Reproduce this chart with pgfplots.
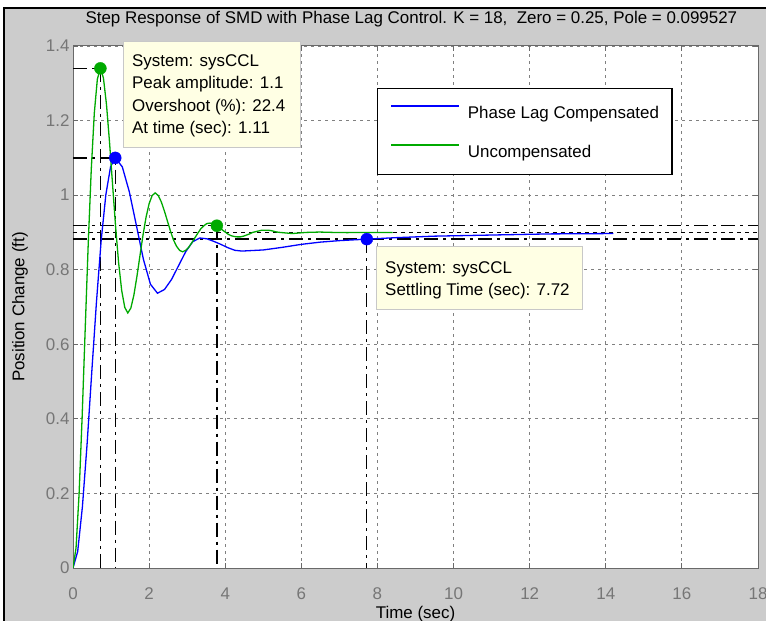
\documentclass[border=0pt]{standalone}
\usepackage{fontspec}
\setmainfont{Liberation Sans}
\usepackage{pgfplots}
\pgfplotsset{compat=1.18}

\definecolor{figgray}{RGB}{204,204,204}
\definecolor{mblue}{RGB}{0,0,255}
\definecolor{mgreen}{RGB}{0,170,0}
\definecolor{tickgray}{RGB}{118,118,118}
\definecolor{axgray}{RGB}{105,105,105}
\definecolor{tipfill}{RGB}{255,255,228}
\definecolor{tipedge}{RGB}{200,200,200}
\newcommand{\fs}{\fontsize{17}{20}\selectfont}

\begin{document}
\begin{tikzpicture}
\useasboundingbox (0,0) rectangle (766bp,621bp);
\fill[white] (0,0) rectangle (766bp,621bp);
\fill[figgray] (4bp,0) rectangle (766bp,613bp);
\draw[line width=2bp] (4bp,0) -- (4bp,613bp) -- (766bp,613bp);

\begin{axis}[
  at={(73bp,53bp)}, anchor=south west,
  width=685bp, height=522bp, scale only axis,
  xmin=0, xmax=18, ymin=0, ymax=1.4,
  xtick={0,2,...,18},
  ytick={0,0.2,0.4,0.6,0.8,1,1.2,1.4},
  yticklabels={0,0.2,0.4,0.6,0.8,1,1.2,1.4},
  axis background/.style={fill=white},
  axis line style={draw=axgray, line width=1bp},
  tick style={draw=axgray, line width=0.8bp},
  tick align=inside, major tick length=5bp,
  grid=major,
  major grid style={draw=gray, line width=0.9bp, dash pattern=on 3bp off 4bp},
  /pgf/number format/assume math mode=true,
  tick label style={font=\fs, text=tickgray},
  xticklabel style={yshift=-16bp},
  title={Step Response of SMD with Phase Lag Control. K = 18,\ \ Zero = 0.25, Pole = 0.099527},
  title style={font=\fs, at={([yshift=17bp]axis description cs:0.494,1)}, anchor=base},
  xlabel={Time (sec)},
  xlabel style={font=\fs, at={([yshift=-50bp]axis description cs:0.5,0)}, anchor=base},
  ylabel={Position Change (ft)},
  ylabel style={font=\fs, at={([xshift=-48.5bp]axis description cs:0,0.5)}, anchor=base},
  legend style={at={(axis description cs:0.4438,0.9195)}, anchor=north west,
    draw=black, line width=1.2bp, fill=white, font=\fs,
    inner xsep=13bp, inner ysep=14.5bp, row sep=21.5bp,
    nodes={inner sep=0pt, text height=15.5bp, text depth=2bp}},
  legend cell align=left,
  legend image code/.code={\draw[#1, line width=1.3bp] (0bp,6bp) -- (68bp,6bp); \path (76bp,0bp);},
]

% characteristic lines (peak and settling)
\addplot[forget plot, black, line width=1.4bp, dash pattern=on 14bp off 5bp on 3bp off 5bp]
  coordinates {(0,1.34) (0.72,1.34) (0.72,0)};
\addplot[forget plot, black, line width=1.4bp, dash pattern=on 14bp off 5bp on 3bp off 5bp]
  coordinates {(0,1.1) (1.11,1.1) (1.11,0)};
\addplot[forget plot, black, line width=1.4bp, dash pattern=on 14bp off 5bp on 3bp off 5bp]
  coordinates {(3.78,0.918) (3.78,0)};
\addplot[forget plot, black, line width=1.4bp, dash pattern=on 14bp off 5bp on 3bp off 5bp]
  coordinates {(7.72,0.882) (7.72,0)};
\addplot[forget plot, black, line width=1.4bp, dash pattern=on 14bp off 5bp on 3bp off 5bp]
  coordinates {(0,0.918) (18,0.918)};
\addplot[forget plot, black, line width=1.4bp, dash pattern=on 14bp off 5bp on 3bp off 5bp]
  coordinates {(0,0.882) (18,0.882)};
\addplot[forget plot, black, line width=1bp, dash pattern=on 4bp off 4bp]
  coordinates {(0,0.9) (18,0.9)};

% phase lag compensated
\addplot[mblue, line width=1.3bp] coordinates {
(0,0) (0.123,0.044) (0.247,0.164) (0.37,0.332) (0.493,0.525) (0.617,0.714)
(0.74,0.878) (0.863,1.001) (0.987,1.076) (1.11,1.1) (1.295,1.076) (1.48,1.009)
(1.665,0.919) (1.85,0.828) (2.035,0.761) (2.22,0.737) (2.405,0.747) (2.59,0.774)
(2.775,0.811) (2.96,0.848) (3.145,0.875) (3.33,0.885) (3.515,0.883) (3.70,0.876)
(3.885,0.868) (4.07,0.859) (4.255,0.852) (4.44,0.850) (5.0,0.853) (5.5,0.860)
(6.0,0.868) (6.5,0.874) (7.0,0.878) (7.72,0.882) (8.5,0.886) (9.5,0.890)
(11,0.893) (12.5,0.896) (14.2,0.897)
};
\addlegendentry{Phase Lag Compensated}

% uncompensated
\addplot[mgreen, line width=1.3bp] coordinates {
(0,0) (0.08,0.054) (0.16,0.199) (0.24,0.405) (0.32,0.639) (0.40,0.869)
(0.48,1.069) (0.56,1.220) (0.64,1.311) (0.72,1.341) (0.80,1.314) (0.88,1.243)
(0.96,1.142) (1.04,1.028) (1.12,0.915) (1.20,0.817) (1.28,0.744) (1.36,0.699)
(1.44,0.684) (1.52,0.697) (1.60,0.732) (1.68,0.782) (1.76,0.838) (1.84,0.893)
(1.92,0.941) (2.00,0.977) (2.08,0.999) (2.16,1.006) (2.24,0.999) (2.32,0.982)
(2.40,0.958) (2.48,0.931) (2.56,0.904) (2.64,0.880) (2.72,0.863) (2.80,0.852)
(2.88,0.848) (2.96,0.852) (3.04,0.860) (3.12,0.872) (3.20,0.885) (3.28,0.898)
(3.36,0.910) (3.44,0.918) (3.52,0.924) (3.60,0.925) (3.68,0.924) (3.76,0.920)
(3.84,0.914) (3.92,0.907) (4.00,0.901) (4.08,0.895) (4.16,0.891) (4.24,0.889)
(4.32,0.888) (4.40,0.888) (4.48,0.890) (4.56,0.893) (4.64,0.896) (4.72,0.900)
(4.80,0.902) (4.88,0.904) (4.96,0.906) (5.04,0.906) (5.12,0.906) (5.20,0.905)
(5.28,0.903) (5.36,0.901) (5.44,0.900) (5.76,0.897) (6.12,0.900) (6.48,0.901)
(6.84,0.900) (7.20,0.8995) (7.8,0.900) (8.4,0.900)
};
\addlegendentry{Uncompensated}

% characteristic points
\addplot[forget plot, only marks, mark=*, mark size=6bp, mgreen, mark options={fill=mgreen, draw=mgreen}]
  coordinates {(0.72,1.34) (3.78,0.918)};
\addplot[forget plot, only marks, mark=*, mark size=6bp, mblue, mark options={fill=mblue, draw=mblue}]
  coordinates {(1.11,1.1) (7.72,0.882)};
\end{axis}

% data tips
\draw[tipedge, fill=tipfill, line width=1bp] (123bp,473bp) rectangle (300bp,579bp);
\node[anchor=base west, inner sep=0pt, font=\fs] at (132bp,554.5bp) {System: sysCCL};
\node[anchor=base west, inner sep=0pt, font=\fs] at (132bp,532bp) {Peak amplitude: 1.1};
\node[anchor=base west, inner sep=0pt, font=\fs] at (132bp,509.5bp) {Overshoot (\%): 22.4};
\node[anchor=base west, inner sep=0pt, font=\fs] at (132bp,487bp) {At time (sec): 1.11};

\draw[tipedge, fill=tipfill, line width=1bp] (376bp,311bp) rectangle (582bp,374bp);
\node[anchor=base west, inner sep=0pt, font=\fs] at (385bp,347bp) {System: sysCCL};
\node[anchor=base west, inner sep=0pt, font=\fs] at (385bp,325bp) {Settling Time (sec): 7.72};
\end{tikzpicture}
\end{document}
